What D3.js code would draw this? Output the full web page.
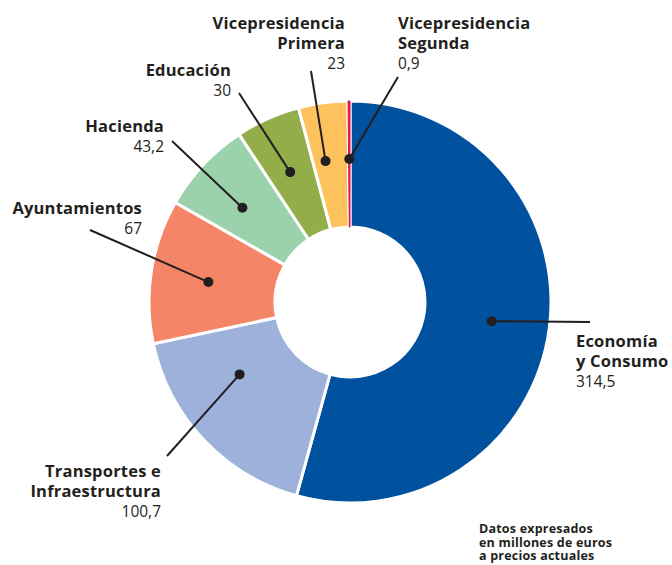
<!DOCTYPE html>
<html>
<head>
<meta charset="utf-8">
<script src="https://cdn.jsdelivr.net/npm/d3@7"></script>
<style>
  body { margin: 0; background: #fff; }
  svg text { font-family: "Open Sans", sans-serif; fill: #231f20; }
  .name { font-weight: 700; font-size: 16.5px; letter-spacing: 0.2px; }
  .val  { font-weight: 400; font-size: 15.5px; }
  .note { font-weight: 700; font-size: 12.5px; letter-spacing: 0.2px; }
</style>
</head>
<body>
<div id="chart"></div>
<script>
// data
const categories = ["Economía y Consumo", "Transportes e Infraestructura", "Ayuntamientos",
                    "Hacienda", "Educación", "Vicepresidencia Primera", "Vicepresidencia Segunda"];
const values = [314.5, 100.7, 67, 43.2, 30, 23, 0.9];
const colors = ["#00519e", "#9db1db", "#f48566", "#9cd2ab", "#93ad4a", "#fdc25b", "#e3164f"];

// label lines as they are broken in the picture
const nameLines = [
  ["Economía", "y Consumo"],
  ["Transportes e", "Infraestructura"],
  ["Ayuntamientos"],
  ["Hacienda"],
  ["Educación"],
  ["Vicepresidencia", "Primera"],
  ["Vicepresidencia", "Segunda"]
];
const noteLines = ["Datos expresados", "en millones de euros", "a precios actuales"];

// layout of the annotations
const labelLayout = [
  { x: 576, y: 347, anchor: "start", lead: [590, 322], dotPos: 0.5 },
  { x: 161, y: 477, anchor: "end",   lead: [167, 456], dotPos: 0.66, r: 132 },
  { x: 142, y: 214, anchor: "end",   lead: [90, 230],  dotPos: 0.48 },
  { x: 164, y: 132, anchor: "end",   lead: [172, 141], dotPos: 0.43 },
  { x: 231, y: 76,  anchor: "end",   lead: [239, 93],  dotPos: 0.47 },
  { x: 345, y: 29,  anchor: "end",   lead: [311, 71],  dotPos: 0.35 },
  { x: 398, y: 29,  anchor: "start", lead: [398, 77],  dotPos: 0.5 }
];

const width = 672, height = 565;
const cx = 350, cy = 302;
const outerR = 201, innerR = 75, dotR = 143;
const lineH = 20;

const fmt = v => String(v).replace(".", ",");

const svg = d3.select("#chart").append("svg")
  .attr("width", width)
  .attr("height", height);

const g = svg.append("g").attr("transform", `translate(${cx},${cy})`);

const pie = d3.pie().sort(null).startAngle(0).endAngle(2 * Math.PI);
const arcs = pie(values);

const arc = d3.arc().innerRadius(innerR).outerRadius(outerR);

g.selectAll("path.slice")
  .data(arcs)
  .enter()
  .append("path")
  .attr("class", "slice")
  .attr("d", arc)
  .attr("fill", (d, i) => colors[i])
  .attr("stroke", "#fff")
  .attr("stroke-width", 3);

// very thin slices would vanish under the white separator, redraw them on top
g.selectAll("path.thin")
  .data(arcs.filter(d => (d.endAngle - d.startAngle) * outerR < 4))
  .enter()
  .append("path")
  .attr("class", "thin")
  .attr("d", arc)
  .attr("fill", d => colors[d.index])
  .attr("stroke", d => colors[d.index])
  .attr("stroke-width", 1);

// dots and leader lines
const dotPoint = (d, i) => {
  const L = labelLayout[i];
  const a = d.startAngle + (d.endAngle - d.startAngle) * L.dotPos;
  const r = L.r || dotR;
  return [cx + r * Math.sin(a), cy - r * Math.cos(a)];
};

svg.selectAll("line.leader")
  .data(arcs)
  .enter()
  .append("line")
  .attr("class", "leader")
  .attr("x1", (d, i) => dotPoint(d, i)[0])
  .attr("y1", (d, i) => dotPoint(d, i)[1])
  .attr("x2", (d, i) => labelLayout[i].lead[0])
  .attr("y2", (d, i) => labelLayout[i].lead[1])
  .attr("stroke", "#231f20")
  .attr("stroke-width", 2);

svg.selectAll("circle.dot")
  .data(arcs)
  .enter()
  .append("circle")
  .attr("class", "dot")
  .attr("cx", (d, i) => dotPoint(d, i)[0])
  .attr("cy", (d, i) => dotPoint(d, i)[1])
  .attr("r", 5)
  .attr("fill", "#231f20");

// labels
categories.forEach((c, i) => {
  const L = labelLayout[i];
  const t = svg.append("text")
    .attr("x", L.x)
    .attr("y", L.y)
    .attr("text-anchor", L.anchor);
  nameLines[i].forEach((line, j) => {
    t.append("tspan")
      .attr("class", "name")
      .attr("x", L.x)
      .attr("dy", j === 0 ? 0 : lineH)
      .text(line);
  });
  t.append("tspan")
    .attr("class", "val")
    .attr("x", L.x)
    .attr("dy", lineH)
    .text(fmt(values[i]));
});

const note = svg.append("text")
  .attr("class", "note")
  .attr("x", 479)
  .attr("y", 533);
noteLines.forEach((line, j) => {
  note.append("tspan")
    .attr("x", 479)
    .attr("dy", j === 0 ? 0 : 13.5)
    .text(line);
});
</script>
</body>
</html>
